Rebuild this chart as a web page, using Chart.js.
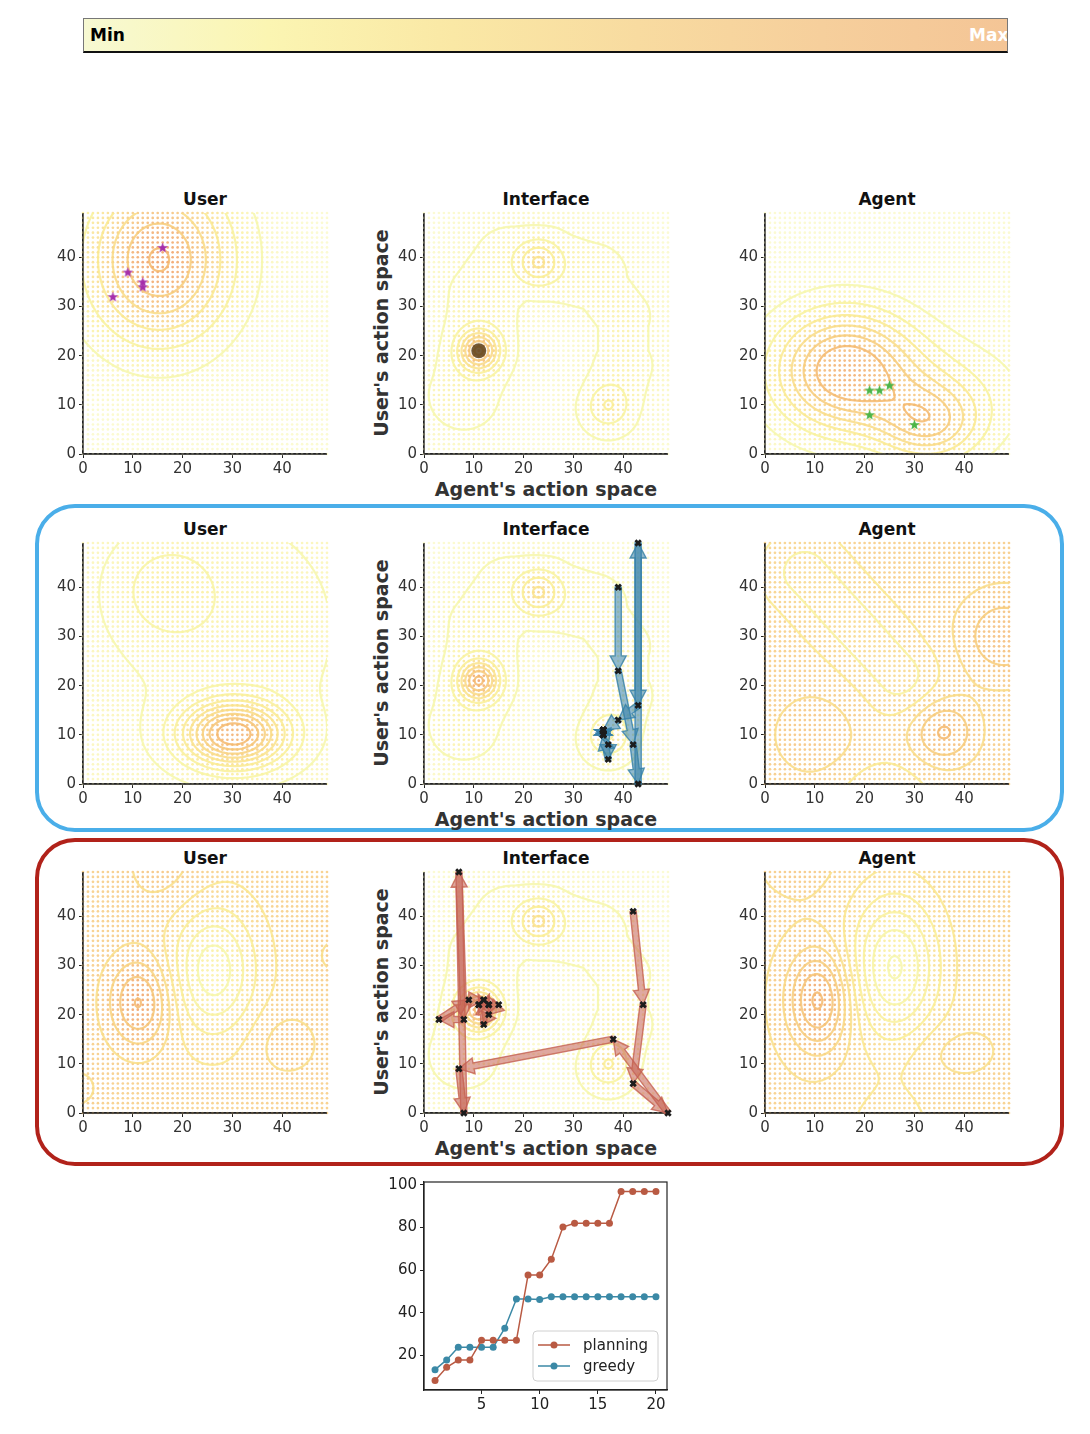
<!DOCTYPE html>
<html>
<head>
<meta charset="utf-8">
<script src="https://cdn.jsdelivr.net/npm/chart.js@4.4.1/dist/chart.umd.min.js"></script>
<style>
  body { margin: 0; background: #fff; }
  #page { position: relative; width: 1090px; height: 1434px; overflow: hidden; font-family: "DejaVu Sans", sans-serif; }
  canvas { position: absolute; }
  .title { position: absolute; width: 244px; text-align: center; font-weight: bold; font-size: 17px; color: #111; line-height: 20px; }
  .xlab { position: absolute; width: 300px; text-align: center; font-weight: bold; font-size: 19px; color: #333; line-height: 22px; }
  .ylab { position: absolute; width: 260px; text-align: center; font-weight: bold; font-size: 19px; color: #333; line-height: 22px; transform: rotate(-90deg); }
  .frame { position: absolute; box-sizing: border-box; border-radius: 40px; border: 4px solid; }
  #cbar { position: absolute; left: 83px; top: 18px; width: 925px; height: 35px; box-sizing: border-box;
          border: 1px solid #777; border-bottom: 2px solid #111; overflow: hidden; }
  #cbar span { position: absolute; top: 6px; font-weight: bold; font-size: 17px; line-height: 20px; }
</style>
</head>
<body>
<div id="page">
  <div id="cbar"><span style="left:6px;color:#000">Min</span><span style="left:885px;color:#fff">Max</span></div>
  <div class="frame" style="left:35px;top:504px;width:1029px;height:328px;border-color:#4aaee9"></div>
  <div class="frame" style="left:35px;top:838px;width:1029px;height:328px;border-color:#b1221a"></div>
</div>
<script>
// ---------- colour scales ----------
const barStops = ["#f7f9d2", "#fbf5b2", "#fae8a5", "#f8dba0", "#f6cf9c", "#f4c596"];
const dotStops = ["#fbfbd6", "#fbf1aa", "#f9dd9a", "#f6c589", "#f2a977"];
const lineStops = ["#f6f7ac", "#faee94", "#f9d882", "#f4b86c"];

// ---------- density fields: bumps are [x, y, sx, sy, amplitude] ----------
const r1UserBase = 0.02;
const r1UserBumps = [[15.3, 39.5, 9.9, 11.5, 0.97]];
const r1UserLevels = [0.13, 0.30, 0.47, 0.64, 0.81, 0.97];

const r1AgentBase = 0.02;
const r1AgentBumps = [[16, 17, 10, 8.5, 0.8], [33, 6, 7, 5.5, 0.45], [36, 12, 12, 8, 0.2]];
const r1AgentLevels = [0.12, 0.24, 0.36, 0.48, 0.6, 0.72];

// interface field (same in all three rows); ridge segments are [x1, y1, x2, y2, s, amplitude]
const ifaceBase = 0;
const ifaceBumps = [[11, 21, 2.76, 2.76, 0.773], [23, 39, 2.93, 2.93, 0.36], [37, 10, 2.76, 2.76, 0.213]];
const ifaceRidge = [
  [8, 12, 11, 21, 7.8, 0.2], [11, 21, 12, 32, 7.8, 0.2], [12, 32, 17, 39, 7.8, 0.2],
  [17, 39, 25, 38.5, 7.8, 0.2], [25, 38.5, 34, 36, 7.5, 0.2], [34, 36, 40, 28, 6, 0.2],
  [40, 28, 40, 18, 5.6, 0.2], [40, 18, 37, 9, 6.5, 0.2]
];
const ifaceLevels = [0.133, 0.267, 0.4, 0.533, 0.667, 0.8, 0.933];

const r2UserBase = 0.1;
const r2UserBumps = [[30.3, 10.1, 7, 4.5, 0.72], [30, 32, 16, 18, 0.08], [16.5, 39.5, 7, 7, 0.13], [40, 30, 4, 6, 0.05]];
const r2UserLevels = [0.14, 0.22, 0.30, 0.38, 0.46, 0.54, 0.62, 0.70, 0.78];

const r2AgentBase = 0.62;
const r2AgentBumps = [[10, 10, 6.1, 6.1, 0.07], [35.8, 10.6, 4.5, 4.5, 0.16], [48, 30, 6.2, 6.2, 0.14], [24, -3, 6, 5, -0.1]];
const r2AgentRidge = [[8, 43, 27, 22, 5.5, -0.12]];
const r2AgentLevels = [0.47, 0.53, 0.59, 0.65, 0.71, 0.77];

const r3UserBase = 0.6;
const r3UserBumps = [[11.3, 22.5, 4.5, 6.5, 0.376], [26.2, 29, 5.9, 9, -0.40], [41, 14, 5, 5, 0.11],
                     [16, 50, 6, 6.4, 0.1], [-1, 5, 3, 3, 0.1], [51, 32, 3, 3, 0.1]];
const r3UserLevels = [0.26, 0.36, 0.46, 0.56, 0.66, 0.76, 0.86, 0.96];

const r3AgentBase = 0.6;
const r3AgentBumps = [[10.9, 23, 4.5, 7.2, 0.37], [26, 29.6, 6.5, 10.5, -0.39], [37.3, 12.7, 5.9, 3.9, 0.06],
                      [25, -4, 7, 7, -0.1], [7, 52, 5, 5, 0.08]];
const r3AgentLevels = [0.22, 0.30, 0.38, 0.46, 0.54, 0.62, 0.70, 0.78, 0.86, 0.94];

// ---------- markers ----------
const userStarX = [16, 9, 12, 12, 6];
const userStarY = [42, 37, 35, 34, 32];
const agentStarX = [21, 23, 25, 21, 30];
const agentStarY = [13, 13, 14, 8, 6];
const startDot = [11, 21];

const greedyX = [39, 39, 42, 43, 43, 43, 39, 36, 37, 37, 36, 36, 36, 36, 36, 36, 36, 36, 36, 36];
const greedyY = [40, 23, 8, 0, 49, 16, 13, 11, 8, 5, 10, 11, 10, 11, 10, 11, 10, 11, 10, 11];
const planningX = [42, 44, 42, 49, 38, 7, 8, 7, 8, 3, 9, 12, 11, 13, 15, 13, 12, 12, 13, 11];
const planningY = [41, 22, 6, 0, 15, 9, 0, 49, 19, 19, 23, 23, 22, 22, 22, 20, 18, 23, 22, 22];

// ---------- score curves ----------
const steps = [1, 2, 3, 4, 5, 6, 7, 8, 9, 10, 11, 12, 13, 14, 15, 16, 17, 18, 19, 20];
const planningScore = [8.1, 14.3, 17.7, 17.7, 27, 27, 27, 27, 57.7, 57.7, 65.1, 80.2, 82, 82, 82, 82, 96.9, 96.9, 96.9, 96.9];
const greedyScore = [13.2, 17.8, 23.7, 23.7, 23.7, 23.7, 32.7, 46.4, 46.4, 46.2, 47.4, 47.4, 47.4, 47.4, 47.4, 47.4, 47.4, 47.4, 47.4, 47.4];
const stepTicks = [5, 10, 15, 20];
const scoreTicks = [20, 40, 60, 80, 100];
const axisTicks = [0, 10, 20, 30, 40];

const FONT = "DejaVu Sans";
Chart.defaults.font.family = FONT;
Chart.defaults.font.size = 15;
Chart.defaults.color = "#333";

document.getElementById("cbar").style.background =
  "linear-gradient(to right," + barStops.join(",") + ")";

function hexRgb(h) {
  return [parseInt(h.slice(1, 3), 16), parseInt(h.slice(3, 5), 16), parseInt(h.slice(5, 7), 16)];
}
function ramp(stops, t) {
  t = Math.max(0, Math.min(1, t));
  const p = t * (stops.length - 1), i = Math.min(stops.length - 2, Math.floor(p)), f = p - i;
  const a = hexRgb(stops[i]), b = hexRgb(stops[i + 1]);
  return "rgb(" + a.map((v, k) => Math.round(v + (b[k] - v) * f)).join(",") + ")";
}

// field sampled every half unit over 0..49
const STEP = 0.5, N = 99;
function fieldAt(base, bumps, ridge, x, y) {
  let v = base;
  for (const [cx, cy, sx, sy, a] of bumps) {
    v += a * Math.exp(-((x - cx) ** 2 / (2 * sx * sx) + (y - cy) ** 2 / (2 * sy * sy)));
  }
  let rv = 0;
  for (const [x1, y1, x2, y2, s, a] of ridge) {
    const dx = x2 - x1, dy = y2 - y1;
    let t = ((x - x1) * dx + (y - y1) * dy) / (dx * dx + dy * dy);
    t = Math.max(0, Math.min(1, t));
    const d2 = (x - x1 - t * dx) ** 2 + (y - y1 - t * dy) ** 2;
    const r = a * Math.exp(-d2 / (2 * s * s));
    if (Math.abs(r) > Math.abs(rv)) rv = r;
  }
  return v + rv;
}
function sampleField(base, bumps, ridge) {
  const f = [];
  for (let i = 0; i < N; i++) {
    f.push([]);
    for (let j = 0; j < N; j++) f[i].push(fieldAt(base, bumps, ridge, i * STEP, j * STEP));
  }
  return f;
}
// marching squares
function contour(f, level) {
  const segs = [];
  for (let i = 0; i < N - 1; i++) {
    for (let j = 0; j < N - 1; j++) {
      const c = [f[i][j], f[i + 1][j], f[i + 1][j + 1], f[i][j + 1]];
      const px = [i, i + 1, i + 1, i], py = [j, j, j + 1, j + 1];
      const pts = [];
      for (let e = 0; e < 4; e++) {
        const a = e, b = (e + 1) % 4;
        if ((c[a] >= level) !== (c[b] >= level)) {
          const t = (level - c[a]) / (c[b] - c[a]);
          pts.push([(px[a] + t * (px[b] - px[a])) * STEP, (py[a] + t * (py[b] - py[a])) * STEP]);
        }
      }
      if (pts.length === 2) segs.push(pts);
      else if (pts.length === 4) {
        const mid = (c[0] + c[1] + c[2] + c[3]) / 4;
        if ((mid >= level) === (c[0] >= level)) { segs.push([pts[0], pts[1]], [pts[2], pts[3]]); }
        else { segs.push([pts[3], pts[0]], [pts[1], pts[2]]); }
      }
    }
  }
  return segs;
}

function drawArrow(ctx, x1, y1, x2, y2, rgb) {
  const dx = x2 - x1, dy = y2 - y1, len = Math.hypot(dx, dy);
  if (len < 1) return;
  const ux = dx / len, uy = dy / len, nx = -uy, ny = ux;
  const hl = Math.min(15, len), hw = 8, sw = 3.1;
  const bx = x2 - ux * hl, by = y2 - uy * hl;
  ctx.beginPath();
  ctx.moveTo(x1 + nx * sw, y1 + ny * sw);
  ctx.lineTo(bx + nx * sw, by + ny * sw);
  ctx.lineTo(bx + nx * hw, by + ny * hw);
  ctx.lineTo(x2, y2);
  ctx.lineTo(bx - nx * hw, by - ny * hw);
  ctx.lineTo(bx - nx * sw, by - ny * sw);
  ctx.lineTo(x1 - nx * sw, y1 - ny * sw);
  ctx.closePath();
  ctx.fillStyle = "rgba(" + rgb + ",0.55)";
  ctx.fill();
  ctx.lineWidth = 1.4;
  ctx.strokeStyle = "rgba(" + rgb + ",0.8)";
  ctx.stroke();
}

const layers = {};
const layerPlugin = {
  id: "layers",
  afterDatasetDraw(chart, args) {
    if (args.index !== 0) return;
    const L = layers[chart.canvas.id];
    if (!L) return;
    const ctx = chart.ctx, xs = chart.scales.x, ys = chart.scales.y, area = chart.chartArea;
    ctx.save();
    ctx.beginPath();
    ctx.rect(area.left, area.top, area.right - area.left, area.bottom - area.top);
    ctx.clip();
    ctx.lineWidth = 2.2;
    ctx.lineCap = "round";
    ctx.lineJoin = "round";
    ctx.globalAlpha = 0.85;
    L.lines.forEach((segs, k) => {
      ctx.strokeStyle = ramp(lineStops, k / (L.lines.length - 1));
      ctx.beginPath();
      for (const [a, b] of segs) {
        ctx.moveTo(xs.getPixelForValue(a[0]), ys.getPixelForValue(a[1]));
        ctx.lineTo(xs.getPixelForValue(b[0]), ys.getPixelForValue(b[1]));
      }
      ctx.stroke();
    });
    ctx.restore();
    // spines back on top of the dot grid
    ctx.save();
    ctx.strokeStyle = "#222";
    ctx.lineWidth = 1.3;
    ctx.beginPath();
    ctx.moveTo(area.left, area.top);
    ctx.lineTo(area.left, area.bottom);
    ctx.lineTo(area.right, area.bottom);
    ctx.stroke();
    ctx.restore();
    if (L.pathX) {
      ctx.save();
      for (let i = 0; i + 1 < L.pathX.length; i++) {
        drawArrow(ctx, xs.getPixelForValue(L.pathX[i]), ys.getPixelForValue(L.pathY[i]),
          xs.getPixelForValue(L.pathX[i + 1]), ys.getPixelForValue(L.pathY[i + 1]), L.rgb);
      }
      ctx.restore();
    }
  }
};

function starImage(color) {
  const size = 11, c = document.createElement("canvas");
  c.width = c.height = size;
  const g = c.getContext("2d");
  g.fillStyle = color;
  g.beginPath();
  for (let k = 0; k < 10; k++) {
    const r = k % 2 ? size * 0.21 : size * 0.5, a = -Math.PI / 2 + k * Math.PI / 5;
    g.lineTo(size / 2 + r * Math.cos(a), size / 2 + r * Math.sin(a) + 0.5);
  }
  g.closePath();
  g.fill();
  return c;
}

const page = document.getElementById("page");
function addCanvas(id, left, top, w, h) {
  const c = document.createElement("canvas");
  c.id = id;
  c.width = w; c.height = h;
  c.style.left = left + "px"; c.style.top = top + "px";
  c.style.width = w + "px"; c.style.height = h + "px";
  page.appendChild(c);
  return c;
}
function addText(cls, text, left, top) {
  const d = document.createElement("div");
  d.className = cls;
  d.textContent = text;
  d.style.left = left + "px";
  d.style.top = top + "px";
  page.appendChild(d);
}

function axis(pos, fitSize) {
  return {
    type: "linear", min: 0, max: 49,
    afterBuildTicks: s => { s.ticks = axisTicks.map(v => ({ value: v })); },
    afterFit: s => { if (pos === "x") s.height = fitSize; else s.width = fitSize; },
    ticks: { color: "#333", padding: pos === "x" ? 2 : 3, maxRotation: 0, font: { size: 15 } },
    grid: { display: true, drawOnChartArea: false, drawTicks: true, tickLength: 4, color: "#222" },
    border: { display: true, color: "#222", width: 1.2 }
  };
}

function panel(id, left, top, base, bumps, ridge, levels, extra, path) {
  const canvas = addCanvas(id, left - 45, top - 10, 301, 281);
  const f = sampleField(base, bumps, ridge);
  layers[id] = { lines: levels.map(l => contour(f, l)) };
  if (path) Object.assign(layers[id], path);
  const dots = [], colors = [];
  for (let i = 0; i <= 49; i++) {
    for (let j = 0; j <= 49; j++) {
      dots.push({ x: i, y: j });
      colors.push(ramp(dotStops, f[i * 2][j * 2]));
    }
  }
  const sets = [{ data: dots, backgroundColor: colors, borderWidth: 0, pointRadius: 1.35, order: 10, clip: false }];
  extra.forEach(s => sets.push(Object.assign({ order: 1, clip: false }, s)));
  new Chart(canvas, {
    type: "scatter",
    data: { datasets: sets },
    options: {
      responsive: false, animation: false, events: [],
      layout: { padding: { left: 0, top: 10, right: 12, bottom: 0 } },
      plugins: { legend: { display: false }, tooltip: { enabled: false } },
      scales: { x: axis("x", 28), y: axis("y", 45) }
    },
    plugins: [layerPlugin]
  });
}

function pts(xs, ys) { return xs.map((x, i) => ({ x: x, y: ys[i] })); }
function crosses(xs, ys) {
  return { data: pts(xs, ys), pointStyle: "crossRot", pointRadius: 3.8, borderWidth: 2.8, borderColor: "#1c1c1c" };
}

const colLeft = [83, 424, 765];
const rowTop = [211, 541, 870];
const titles = ["User", "Interface", "Agent"];
rowTop.forEach(t => {
  titles.forEach((name, c) => addText("title", name, colLeft[c], t - 22));
  addText("ylab", "User's action space", 381 - 130, t + 122 - 11);
  addText("xlab", "Agent's action space", 546 - 150, t + 267);
});

panel("u1", colLeft[0], rowTop[0], r1UserBase, r1UserBumps, [], r1UserLevels,
  [{ data: pts(userStarX, userStarY), pointStyle: starImage("#a52fab") }]);
panel("i1", colLeft[1], rowTop[0], ifaceBase, ifaceBumps, ifaceRidge, ifaceLevels,
  [{ data: [{ x: startDot[0], y: startDot[1] }], pointRadius: 7.5, backgroundColor: "rgba(98,68,28,0.88)", borderWidth: 0 }]);
panel("a1", colLeft[2], rowTop[0], r1AgentBase, r1AgentBumps, [], r1AgentLevels,
  [{ data: pts(agentStarX, agentStarY), pointStyle: starImage("#4cb548") }]);

panel("u2", colLeft[0], rowTop[1], r2UserBase, r2UserBumps, [], r2UserLevels, []);
panel("i2", colLeft[1], rowTop[1], ifaceBase, ifaceBumps, ifaceRidge, ifaceLevels,
  [crosses(greedyX, greedyY)], { pathX: greedyX, pathY: greedyY, rgb: "52,128,168" });
panel("a2", colLeft[2], rowTop[1], r2AgentBase, r2AgentBumps, r2AgentRidge, r2AgentLevels, []);

panel("u3", colLeft[0], rowTop[2], r3UserBase, r3UserBumps, [], r3UserLevels, []);
panel("i3", colLeft[1], rowTop[2], ifaceBase, ifaceBumps, ifaceRidge, ifaceLevels,
  [crosses(planningX, planningY)], { pathX: planningX, pathY: planningY, rgb: "196,96,82" });
panel("a3", colLeft[2], rowTop[2], r3AgentBase, r3AgentBumps, [], r3AgentLevels, []);

// ---------- score chart ----------
const frameAndLegend = {
  id: "frameAndLegend",
  afterDraw(chart) {
    const ctx = chart.ctx, a = chart.chartArea;
    ctx.save();
    ctx.strokeStyle = "#222";
    ctx.lineWidth = 1.2;
    ctx.strokeRect(a.left, a.top, a.right - a.left, a.bottom - a.top);
    const w = 125, h = 50, x = a.right - 9 - w, y = a.bottom - 9 - h;
    ctx.beginPath();
    ctx.roundRect(x, y, w, h, 4);
    ctx.fillStyle = "rgba(255,255,255,0.85)";
    ctx.fill();
    ctx.strokeStyle = "#d0d0d0";
    ctx.lineWidth = 1;
    ctx.stroke();
    chart.data.datasets.forEach((ds, i) => {
      const cy = y + 14 + i * 21;
      ctx.strokeStyle = ds.borderColor;
      ctx.lineWidth = 1.5;
      ctx.beginPath();
      ctx.moveTo(x + 5, cy);
      ctx.lineTo(x + 37, cy);
      ctx.stroke();
      ctx.fillStyle = ds.borderColor;
      ctx.beginPath();
      ctx.arc(x + 21, cy, 3.5, 0, Math.PI * 2);
      ctx.fill();
      ctx.fillStyle = "#222";
      ctx.font = "15px " + FONT;
      ctx.textBaseline = "middle";
      ctx.fillText(ds.label, x + 50, cy + 1);
    });
    ctx.restore();
  }
};

const scoreCanvas = addCanvas("score", 379, 1170, 300, 250);
function scoreAxis(pos, min, max, ticks, fitSize) {
  return {
    type: "linear", min: min, max: max,
    afterBuildTicks: s => { s.ticks = ticks.map(v => ({ value: v })); },
    afterFit: s => { if (pos === "x") s.height = fitSize; else s.width = fitSize; },
    ticks: { color: "#222", padding: pos === "x" ? 2 : 3, maxRotation: 0, font: { size: 15 } },
    grid: { display: true, drawOnChartArea: false, drawTicks: true, tickLength: 4, color: "#222" },
    border: { display: true, color: "#222", width: 1.2 }
  };
}
new Chart(scoreCanvas, {
  type: "line",
  data: {
    datasets: [
      { label: "planning", data: pts(steps, planningScore), borderColor: "#b95a43", backgroundColor: "#b95a43",
        borderWidth: 1.5, pointRadius: 3.5, pointBorderWidth: 0, tension: 0 },
      { label: "greedy", data: pts(steps, greedyScore), borderColor: "#3b89a6", backgroundColor: "#3b89a6",
        borderWidth: 1.5, pointRadius: 3.5, pointBorderWidth: 0, tension: 0 }
    ]
  },
  options: {
    responsive: false, animation: false, events: [],
    layout: { padding: { left: 0, top: 10, right: 12, bottom: 0 } },
    plugins: { legend: { display: false }, tooltip: { enabled: false } },
    scales: {
      x: scoreAxis("x", 0.05, 20.95, stepTicks, 30),
      y: scoreAxis("y", 3.66, 101.34, scoreTicks, 45)
    }
  },
  plugins: [frameAndLegend]
});
</script>
</body>
</html>
